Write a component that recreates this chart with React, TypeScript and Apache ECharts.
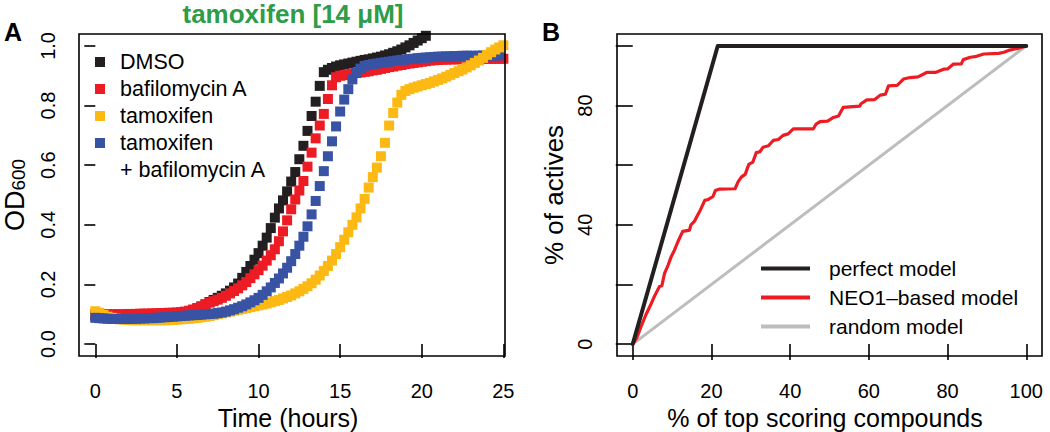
import React, { useEffect, useRef } from "react";
import * as echarts from "echarts";

// ---------- Panel A: growth curves (OD600 read every 15 min) ----------
const READ_STEP_HOURS = 0.25;

const dmso = [
  0.095, 0.095, 0.094, 0.094, 0.094, 0.094, 0.095, 0.095, 0.095, 0.096,
  0.096, 0.097, 0.097, 0.098, 0.098, 0.099, 0.1, 0.1, 0.101, 0.102,
  0.103, 0.105, 0.107, 0.11, 0.114, 0.119, 0.125, 0.133, 0.141, 0.148,
  0.155, 0.162, 0.17, 0.179, 0.19, 0.203, 0.222, 0.242, 0.262, 0.283,
  0.305, 0.33, 0.357, 0.389, 0.424, 0.455, 0.482, 0.512, 0.545, 0.577,
  0.62, 0.665, 0.715, 0.765, 0.813, 0.866, 0.912, 0.92, 0.926, 0.931,
  0.935, 0.938, 0.941, 0.944, 0.947, 0.95, 0.953, 0.955, 0.958, 0.961,
  0.964, 0.968, 0.972, 0.977, 0.982, 0.988, 0.995, 1.002, 1.01, 1.018,
  1.026, 1.034, 1.042, 1.05, 1.057, 1.063, 1.069, 1.074, 1.079, 1.083,
  1.087, 1.091, 1.094, 1.097, 1.1, 1.102, 1.104, 1.106, 1.108, 1.11,
  1.111,
];

const bafilomycinA = [
  0.1, 0.1, 0.1, 0.1, 0.1, 0.1, 0.1, 0.1, 0.101, 0.101,
  0.101, 0.102, 0.102, 0.102, 0.103, 0.103, 0.104, 0.104, 0.105, 0.105,
  0.106, 0.107, 0.109, 0.112, 0.116, 0.121, 0.127, 0.133, 0.139, 0.144,
  0.149, 0.155, 0.162, 0.17, 0.178, 0.187, 0.197, 0.208, 0.221, 0.234,
  0.248, 0.263, 0.28, 0.298, 0.318, 0.345, 0.378, 0.415, 0.452, 0.485,
  0.515, 0.547, 0.595, 0.642, 0.69, 0.733, 0.772, 0.822, 0.868, 0.895,
  0.9, 0.902, 0.905, 0.907, 0.909, 0.911, 0.913, 0.915, 0.918, 0.92,
  0.923, 0.926, 0.929, 0.931, 0.934, 0.936, 0.939, 0.941, 0.943, 0.945,
  0.947, 0.949, 0.951, 0.952, 0.953, 0.954, 0.954, 0.955, 0.955, 0.955,
  0.956, 0.956, 0.956, 0.956, 0.957, 0.957, 0.957, 0.957, 0.957, 0.957,
  0.957,
];

const tamoxifen = [
  0.11, 0.105, 0.098, 0.092, 0.088, 0.085, 0.083, 0.082, 0.081, 0.08,
  0.08, 0.08, 0.08, 0.08, 0.08, 0.08, 0.08, 0.08, 0.08, 0.081,
  0.082, 0.083, 0.084, 0.085, 0.087, 0.088, 0.09, 0.092, 0.094, 0.097,
  0.1, 0.103, 0.106, 0.109, 0.112, 0.115, 0.118, 0.121, 0.124, 0.127,
  0.13, 0.133, 0.136, 0.14, 0.144, 0.148, 0.153, 0.158, 0.163, 0.17,
  0.177, 0.185, 0.194, 0.204, 0.216, 0.23, 0.245, 0.262, 0.28, 0.302,
  0.325, 0.35, 0.375, 0.4, 0.425, 0.455, 0.487, 0.525, 0.56, 0.592,
  0.63, 0.675, 0.733, 0.775, 0.81, 0.836, 0.849, 0.855, 0.86, 0.864,
  0.868, 0.872, 0.876, 0.881, 0.886, 0.891, 0.897, 0.903, 0.909, 0.915,
  0.921, 0.928, 0.935, 0.943, 0.951, 0.96, 0.97, 0.979, 0.988, 0.995,
  1.002,
];

const tamoxifenBafilomycinA = [
  0.088, 0.087, 0.086, 0.085, 0.084, 0.084, 0.084, 0.084, 0.084, 0.085,
  0.085, 0.086, 0.086, 0.087, 0.087, 0.088, 0.089, 0.09, 0.091, 0.092,
  0.093, 0.094, 0.095, 0.096, 0.097, 0.098, 0.099, 0.1, 0.101, 0.102,
  0.104, 0.106, 0.109, 0.113, 0.117, 0.122, 0.127, 0.133, 0.14, 0.147,
  0.155, 0.165, 0.177, 0.19, 0.205, 0.22, 0.237, 0.256, 0.278, 0.302,
  0.33, 0.36, 0.395, 0.435, 0.48, 0.53, 0.58, 0.63, 0.68, 0.73,
  0.78, 0.82, 0.855, 0.888, 0.91, 0.924, 0.933, 0.936, 0.939, 0.941,
  0.943, 0.945, 0.947, 0.949, 0.951, 0.953, 0.954, 0.956, 0.957, 0.959,
  0.96, 0.961, 0.962, 0.963, 0.964, 0.964, 0.965, 0.965, 0.966, 0.966,
  0.967, 0.967, 0.967, 0.967, 0.967, 0.968, 0.968, 0.968, 0.968, 0.968,
];

const timeTicks = [0, 5, 10, 15, 20, 25];
const odTicks = [0, 0.2, 0.4, 0.6, 0.8, 1.0];

// ---------- Panel B: enrichment curves ----------
const perfectModel = [
  [0, 0],
  [21.6, 100],
  [100, 100],
];
const randomModel = [
  [0, 0],
  [100, 100],
];
const neo1Model = [
  [0, 0], [1, 2], [2, 5.5], [3.4, 10], [4.5, 13], [5.5, 16], [6.8, 19.3],
  [7.4, 19.6], [8.1, 23.8], [9, 26.5], [9.8, 29.4], [10.6, 31.5], [11.5, 34.4],
  [12.7, 37.8], [14.4, 38.2], [14.8, 40], [15.7, 41.2], [16.3, 42.8],
  [17.2, 45], [18.3, 48.2], [19.2, 48.5], [20.4, 49.5], [21, 51.5], [22.1, 52],
  [26, 52.1], [26.8, 54.5], [27.6, 56], [28.6, 57], [29.5, 60.3], [30.5, 61],
  [31.4, 64.2], [32.3, 64.5], [33.1, 66], [34.5, 66.5], [35.7, 68.3],
  [37, 68.6], [38.2, 70], [39.5, 70.5], [40.8, 72.2], [45.9, 72.2],
  [46.6, 73.8], [47.6, 74.6], [49.5, 74.8], [51, 76], [52.3, 76.5],
  [53.5, 79.4], [57.7, 79.8], [58, 80.6], [59.5, 81.9], [61.5, 82],
  [62.9, 83.5], [64.2, 83.8], [65, 86.6], [67.2, 86.8], [68.8, 88.9],
  [70.5, 89.4], [72.5, 89.6], [74.7, 91.1], [76.9, 91.1], [79, 92.2],
  [80, 92.3], [81.5, 93.9], [83.5, 94], [84, 95.4], [85.8, 96.2], [87, 96.4],
  [89.2, 97.3], [93, 97.5], [94.3, 97.9], [95.5, 98.5], [96.8, 98.9],
  [98, 99.2], [100, 100],
];
const pctXTicks = [0, 20, 40, 60, 80, 100];
const pctYTicks = [0, 20, 40, 60, 80, 100];
const pctYLabels = [0, 40, 80];

// ---------- styling ----------
const FONT = "'Liberation Sans', Arial, Helvetica, sans-serif";
const C_BLACK = "#231f20";
const C_RED = "#ed1c24";
const C_YELLOW = "#fdb913";
const C_BLUE = "#3953a4";
const C_GREY = "#bdbdbd";
const C_GREEN = "#2e9c48";

const toPoints = (vals: number[]) => vals.map((v, i) => [i * READ_STEP_HOURS, v]);
const LATE_HOURS = 21;

const PANEL_A = { left: 79, top: 34, width: 426, height: 322 };
const PANEL_B = { left: 617, top: 34, width: 425, height: 322 };

export default function App() {
  const ref = useRef<HTMLDivElement>(null);

  useEffect(() => {
    if (!ref.current) return;
    const chart = echarts.init(ref.current, undefined, { renderer: "svg" });

    const tickStyle = { color: "#000", width: 1.6 };
    const labelBase = { color: "#000", fontSize: 20, fontFamily: FONT };

    const legendA = [
      { label: "DMSO", color: C_BLACK, y: 62 },
      { label: "bafilomycin A", color: C_RED, y: 89 },
      { label: "tamoxifen", color: C_YELLOW, y: 116 },
      { label: "tamoxifen", color: C_BLUE, y: 143 },
    ];

    const graphic: any[] = [
      {
        type: "text",
        x: 293,
        y: 14,
        style: {
          text: "tamoxifen [14 μM]",
          fill: C_GREEN,
          fontSize: 26,
          fontWeight: "bold",
          fontFamily: FONT,
          align: "center",
          verticalAlign: "middle",
        },
      },
      {
        type: "text",
        x: 13,
        y: 32,
        style: { text: "A", fill: "#000", fontSize: 25, fontWeight: "bold", fontFamily: FONT, align: "center", verticalAlign: "middle" },
      },
      {
        type: "text",
        x: 551,
        y: 32,
        style: { text: "B", fill: "#000", fontSize: 25, fontWeight: "bold", fontFamily: FONT, align: "center", verticalAlign: "middle" },
      },
      {
        type: "rect",
        z: 100,
        shape: { x: PANEL_A.left, y: PANEL_A.top, width: PANEL_A.width, height: PANEL_A.height },
        style: { fill: "none", stroke: "#000", lineWidth: 1.6 },
      },
      {
        type: "rect",
        z: 100,
        shape: { x: PANEL_B.left, y: PANEL_B.top, width: PANEL_B.width, height: PANEL_B.height },
        style: { fill: "none", stroke: "#000", lineWidth: 1.6 },
      },
    ];
    legendA.forEach((it) => {
      graphic.push({
        type: "rect",
        shape: { x: 95, y: it.y - 5, width: 10, height: 10 },
        style: { fill: it.color },
      });
      graphic.push({
        type: "text",
        x: 120,
        y: it.y,
        style: { text: it.label, fill: "#000", fontSize: 21.5, fontFamily: FONT, verticalAlign: "middle" },
      });
    });
    graphic.push({
      type: "text",
      x: 120,
      y: 170,
      style: { text: "+ bafilomycin A", fill: "#000", fontSize: 21.5, fontFamily: FONT, verticalAlign: "middle" },
    });

    const sq = (name: string, color: string, data: number[][], z: number) => ({
      type: "scatter",
      name,
      xAxisIndex: 0,
      yAxisIndex: 0,
      symbol: "rect",
      symbolSize: 10,
      clip: true,
      z,
      itemStyle: { color, opacity: 1 },
      emphasis: { disabled: true },
      data,
    });

    const yellowPts = toPoints(tamoxifen);

    const gridBase = {
      show: false,
      containLabel: false,
      outerBoundsMode: "none",
    };

    const option: any = {
      animation: false,
      backgroundColor: "#fff",
      textStyle: { fontFamily: FONT },
      grid: [
        { ...gridBase, ...PANEL_A },
        { ...gridBase, ...PANEL_B },
      ],
      xAxis: [
        {
          gridIndex: 0,
          type: "value",
          min: -1,
          max: 25.1,
          axisLine: { show: false },
          splitLine: { show: false },
          axisTick: { show: true, length: 14, lineStyle: tickStyle, customValues: timeTicks },
          axisLabel: { ...labelBase, margin: 25, customValues: timeTicks },
          name: "Time (hours)",
          nameLocation: "middle",
          nameGap: 41,
          nameTextStyle: { color: "#000", fontSize: 25, lineHeight: 25, fontFamily: FONT, padding: [0, 8, 0, 0] },
        },
        {
          gridIndex: 1,
          type: "value",
          min: -4,
          max: 104,
          axisLine: { show: false },
          splitLine: { show: false },
          axisTick: { show: true, length: 16, lineStyle: tickStyle, customValues: pctXTicks },
          axisLabel: { ...labelBase, margin: 25, customValues: pctXTicks },
          name: "% of top scoring compounds",
          nameLocation: "middle",
          nameGap: 41,
          nameTextStyle: { color: "#000", fontSize: 25, lineHeight: 25, fontFamily: FONT, padding: [0, 9, 0, 0] },
        },
      ],
      yAxis: [
        {
          gridIndex: 0,
          type: "value",
          min: -0.04,
          max: 1.04,
          axisLine: { show: false },
          splitLine: { show: false },
          axisTick: { show: true, length: 11, lineStyle: tickStyle, customValues: odTicks },
          axisLabel: {
            ...labelBase,
            rotate: 90,
            margin: 21,
            customValues: odTicks,
            formatter: (v: number) => v.toFixed(1),
          },
          name: "{a|OD}{b|600}",
          nameLocation: "middle",
          nameRotate: 90,
          nameGap: 51,
          nameTextStyle: {
            color: "#000",
            rich: {
              a: { fontSize: 27, lineHeight: 27, fontFamily: FONT, color: "#000" },
              b: { fontSize: 19, lineHeight: 19, fontFamily: FONT, color: "#000", verticalAlign: "bottom" },
            },
          },
        },
        {
          gridIndex: 1,
          type: "value",
          min: -4,
          max: 104,
          axisLine: { show: false },
          splitLine: { show: false },
          axisTick: { show: true, length: 17, lineStyle: tickStyle, customValues: pctYTicks },
          axisLabel: { ...labelBase, rotate: 90, margin: 22, customValues: pctYLabels },
          name: "% of actives",
          nameLocation: "middle",
          nameRotate: 90,
          nameGap: 50,
          nameTextStyle: { color: "#000", fontSize: 26, fontFamily: FONT },
        },
      ],
      legend: [
        {
          data: ["perfect model", "NEO1–based model", "random model"],
          orient: "vertical",
          left: 761,
          top: 254,
          padding: 0,
          itemWidth: 49,
          itemHeight: 4,
          itemGap: 0,
          icon: "rect",
          selectedMode: false,
          textStyle: { color: "#000", fontSize: 21, lineHeight: 29, fontFamily: FONT, padding: [0, 0, 0, 14] },
        },
      ],
      graphic,
      series: [
        sq("DMSO", C_BLACK, toPoints(dmso), 2),
        sq("bafilomycin A", C_RED, toPoints(bafilomycinA), 3),
        sq("tamoxifen", C_YELLOW, yellowPts.filter((p) => p[0] < LATE_HOURS), 4),
        sq("tamoxifen + bafilomycin A", C_BLUE, toPoints(tamoxifenBafilomycinA), 5),
        sq("tamoxifen (late reads)", C_YELLOW, yellowPts.filter((p) => p[0] >= LATE_HOURS), 6),
        {
          type: "line",
          name: "random model",
          xAxisIndex: 1,
          yAxisIndex: 1,
          data: randomModel,
          symbol: "none",
          showSymbol: false,
          color: C_GREY,
          lineStyle: { color: C_GREY, width: 3, cap: "round" },
          emphasis: { disabled: true },
          z: 2,
        },
        {
          type: "line",
          name: "NEO1–based model",
          xAxisIndex: 1,
          yAxisIndex: 1,
          data: neo1Model,
          symbol: "none",
          showSymbol: false,
          color: C_RED,
          lineStyle: { color: C_RED, width: 3.2, cap: "round", join: "round" },
          emphasis: { disabled: true },
          z: 3,
        },
        {
          type: "line",
          name: "perfect model",
          xAxisIndex: 1,
          yAxisIndex: 1,
          data: perfectModel,
          symbol: "none",
          showSymbol: false,
          color: C_BLACK,
          lineStyle: { color: C_BLACK, width: 4, cap: "round", join: "round" },
          emphasis: { disabled: true },
          z: 4,
        },
      ],
    };

    chart.setOption(option);
    return () => chart.dispose();
  }, []);

  return (
    <div
      ref={ref}
      style={{ position: "fixed", left: 0, top: 0, width: 1050, height: 432, background: "#fff" }}
    />
  );
}
